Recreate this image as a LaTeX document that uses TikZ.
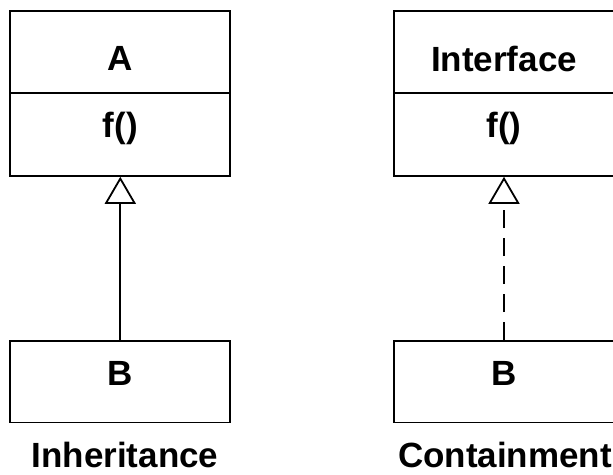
\documentclass[tikz,border=0pt]{standalone}
\usepackage{fontspec}
\setmainfont{Liberation Sans}
\usetikzlibrary{arrows.meta}
\begin{document}
\begin{tikzpicture}[x=1pt, y=-1pt, line width=1.8pt,
  part/.style={draw, minimum width=220pt, inner sep=0pt, anchor=north},
  txt/.style={font=\fontsize{35}{40}\selectfont\bfseries, inner sep=0pt, anchor=base},
  realize/.style={-{Triangle[open, length=27pt, width=31pt]}}]
\useasboundingbox (0,0) rectangle (613,474);

% Inheritance: class A with method f(), subclass B
\node[part, minimum height=82pt] (Ahead) at (120.3,10) {};
\node[part, minimum height=83pt] (Abody) at (120.3,92) {};
\node[part, minimum height=81.5pt] (B1) at (120.3,340) {};
\node[txt] (tA) at (120.3,70) {A};
\node[txt] (tAf) at (120.3,137) {f()};
\node[txt] (tB1) at (120.3,385) {B};
\node[txt] (cap1) at (125,467) {Inheritance};
\draw[realize] (B1.north) -- (Abody.south);

% Containment: interface with method f(), implemented by B
\node[part, minimum height=82pt] (Ihead) at (504,10) {};
\node[part, minimum height=83pt] (Ibody) at (504,92) {};
\node[part, minimum height=81.5pt] (B2) at (504,340) {};
\node[txt] (tI) at (504,71) {Interface};
\node[txt] (tIf) at (504,137) {f()};
\node[txt] (tB2) at (504,385) {B};
\node[txt] (cap2) at (505,467) {Containment};
\draw[realize, dash pattern=on 18pt off 10pt, dash phase=0pt] (B2.north) -- (Ibody.south);
\end{tikzpicture}
\end{document}
